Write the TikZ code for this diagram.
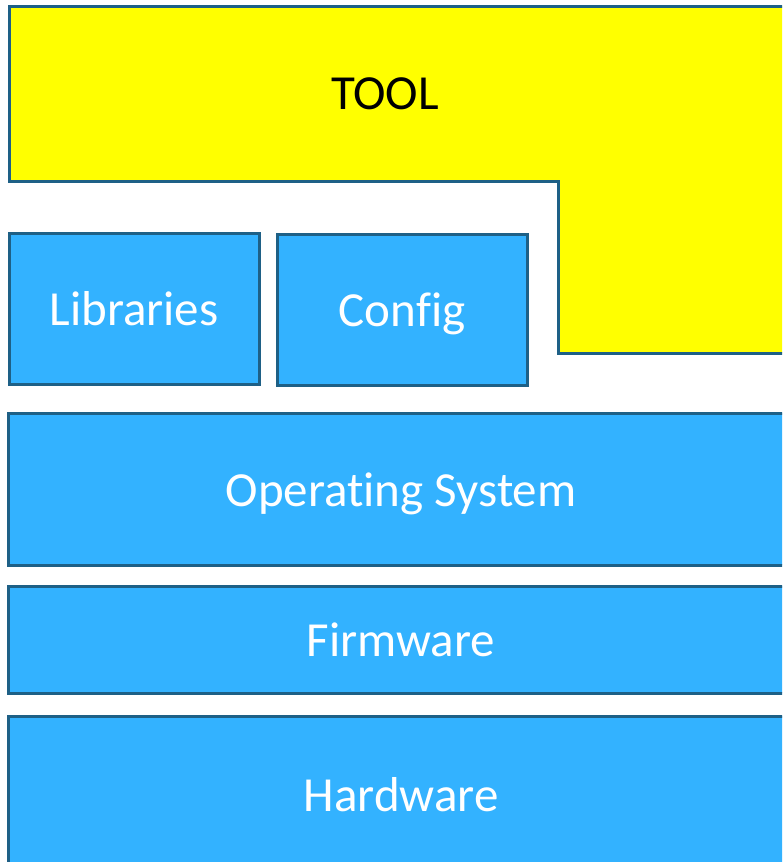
\documentclass[tikz,border=0pt]{standalone}
\usepackage{fontspec}
\setmainfont{Carlito}[Ligatures=NoCommon]
\usetikzlibrary{positioning}
\definecolor{layerblue}{RGB}{51,178,255}
\definecolor{layeredge}{RGB}{30,96,134}
\definecolor{toolyellow}{RGB}{255,255,0}

\tikzset{
    layer/.style={draw=layeredge,fill=layerblue,line width=3pt,inner sep=0pt,
        text=white,text height=34pt,text depth=0pt,
        font=\fontsize{49}{58}\selectfont},
}

\begin{document}
\begin{tikzpicture}[x=1pt,y=-1pt]
    \useasboundingbox (0,0) rectangle (782,862);
    \clip (0,0) rectangle (782,862);
    % tool block
    \draw[draw=layeredge,fill=toolyellow,line width=3pt]
        (9,6) -- (800,6) -- (800,353) -- (558,353) -- (558,181) -- (9,181) -- cycle;
    \node[font=\fontsize{49}{58}\selectfont,text height=34pt,text depth=0pt] (tool) at (385,92) {TOOL};
    % layers
    \node[layer,minimum width=250pt,minimum height=151pt] (libs) at (134,308.5) {Libraries};
    \node[layer,minimum width=250pt,minimum height=151pt] (config) at (402,309.5) {Config};
    \node[layer,minimum width=786pt,minimum height=152pt] (os) at (401,489) {Operating System};
    \node[layer,minimum width=786pt,minimum height=107pt] (firmware) at (401,639.5) {Firmware};
    \node[layer,minimum width=786pt,minimum height=156pt] (hardware) at (401,794) {Hardware};
\end{tikzpicture}
\end{document}
